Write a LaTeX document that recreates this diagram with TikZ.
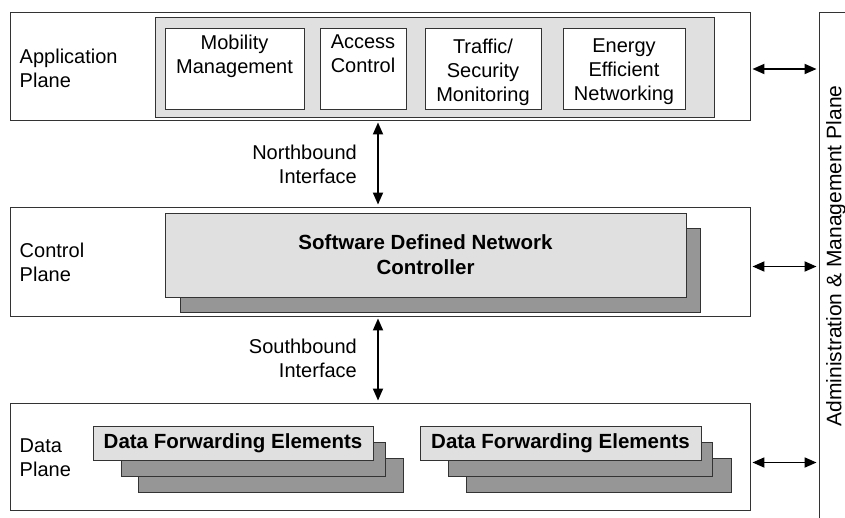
\documentclass[tikz,border=0pt]{standalone}
\usepackage{fontspec}
\setmainfont{Liberation Sans}
\usetikzlibrary{arrows.meta}
\definecolor{lightfill}{HTML}{E0E0E0}
\definecolor{darkfill}{HTML}{969696}
\definecolor{edge}{HTML}{333333}
\tikzset{
  plane/.style={draw=edge, line width=0.9pt, fill=white, rectangle, inner sep=0pt},
  panel/.style={draw=edge, line width=0.9pt, fill=lightfill, rectangle, inner sep=0pt},
  appbox/.style={draw=edge, line width=0.9pt, fill=white, rectangle, inner sep=0pt, minimum height=81pt},
  shadowbox/.style={draw=edge, line width=0.9pt, fill=darkfill, rectangle, inner sep=0pt},
  txt/.style={font=\fontsize{20}{24}\selectfont, inner sep=0pt},
  btxt/.style={font=\fontsize{20.5}{25}\selectfont\bfseries, inner sep=0pt, align=center},
  link/.style={line width=1.8pt, {Triangle[length=12pt,width=10pt]}-{Triangle[length=12pt,width=10pt]}, shorten <=2pt, shorten >=2pt}
}
\begin{document}
\begin{tikzpicture}[x=1pt,y=-1pt]
\useasboundingbox (0,0) rectangle (845,517);
\clip (0,0) rectangle (845,517);

% administration & management plane (runs past the page edge)
\node[plane, minimum width=60pt, minimum height=530pt] (admin) at (849,277) {};
\node[font=\fontsize{21}{24}\selectfont, inner sep=0pt, rotate=90] (admintxt) at (836,256) {Administration \& Management Plane};

% application plane
\node[plane, minimum width=740pt, minimum height=108pt] (app) at (380,66) {};
\node[txt, anchor=west, align=left] (apptxt) at ([xshift=10pt,yshift=-2pt]app.west) {Application\\Plane};
\node[panel, minimum width=559pt, minimum height=100pt] (apps) at (434.5,67) {};
\node[appbox, minimum width=139pt] (mob) at (234.5,68.5) {};
\node[appbox, minimum width=86pt] (acc) at (363,68.5) {};
\node[appbox, minimum width=116pt] (tra) at (483,68.5) {};
\node[appbox, minimum width=122pt] (ene) at (624,68.5) {};
\node[txt, align=center, anchor=north] (mobtxt) at ([yshift=-7pt]mob.north) {Mobility\\Management};
\node[txt, align=center, anchor=north] (acctxt) at ([yshift=-7pt]acc.north) {Access\\Control};
\node[txt, align=center, anchor=north] (tratxt) at ([yshift=-11pt]tra.north) {Traffic/\\Security\\Monitoring};
\node[txt, align=center, anchor=north] (enetxt) at ([yshift=-11pt]ene.north) {Energy\\Efficient\\Networking};

% control plane
\node[plane, minimum width=740pt, minimum height=109pt] (ctrl) at (380,261.5) {};
\node[txt, anchor=west, align=left] (ctrltxt) at ([xshift=10pt,yshift=-1pt]ctrl.west) {Control\\Plane};
\node[shadowbox, minimum width=520pt, minimum height=84pt] (sdnback) at (440,270) {};
\node[panel, minimum width=521pt, minimum height=84pt] (sdn) at (425.5,255) {};
\node[btxt] (sdntxt) at (sdn.center) {Software Defined Network\\Controller};

% data plane
\node[plane, minimum width=740pt, minimum height=107pt] (data) at (380,456.5) {};
\node[txt, anchor=west, align=left] (datatxt) at ([xshift=10pt,yshift=-1pt]data.west) {Data\\Plane};

\node[shadowbox, minimum width=265pt, minimum height=34pt] (dfeAc) at (270.5,475) {};
\node[shadowbox, minimum width=264pt, minimum height=34pt] (dfeAb) at (253,459) {};
\node[panel, minimum width=280pt, minimum height=34pt, btxt] (dfeA) at (233,443) {Data Forwarding Elements};

\node[shadowbox, minimum width=265pt, minimum height=34pt] (dfeBc) at (598.5,475) {};
\node[shadowbox, minimum width=264pt, minimum height=34pt] (dfeBb) at (580,459) {};
\node[panel, minimum width=281pt, minimum height=34pt, btxt] (dfeB) at (560.5,443) {Data Forwarding Elements};

% interfaces between planes
\draw[link] ([xshift=-2pt]app.south) -- ([xshift=-2pt]ctrl.north);
\draw[link] ([xshift=-2pt]ctrl.south) -- ([xshift=-2pt]data.north);
\node[txt, anchor=east, align=right] (nbi) at (357,164) {Northbound\\Interface};
\node[txt, anchor=east, align=right] (sbi) at (357,358) {Southbound\\Interface};

% links to the administration & management plane
\draw[link] ([yshift=-3pt]app.east) -- ([yshift=-3pt]app.east -| admin.west);
\draw[link] ([yshift=-5pt]ctrl.east) -- ([yshift=-5pt]ctrl.east -| admin.west);
\draw[link] ([yshift=-6pt]data.east) -- ([yshift=-6pt]data.east -| admin.west);
\end{tikzpicture}
\end{document}
